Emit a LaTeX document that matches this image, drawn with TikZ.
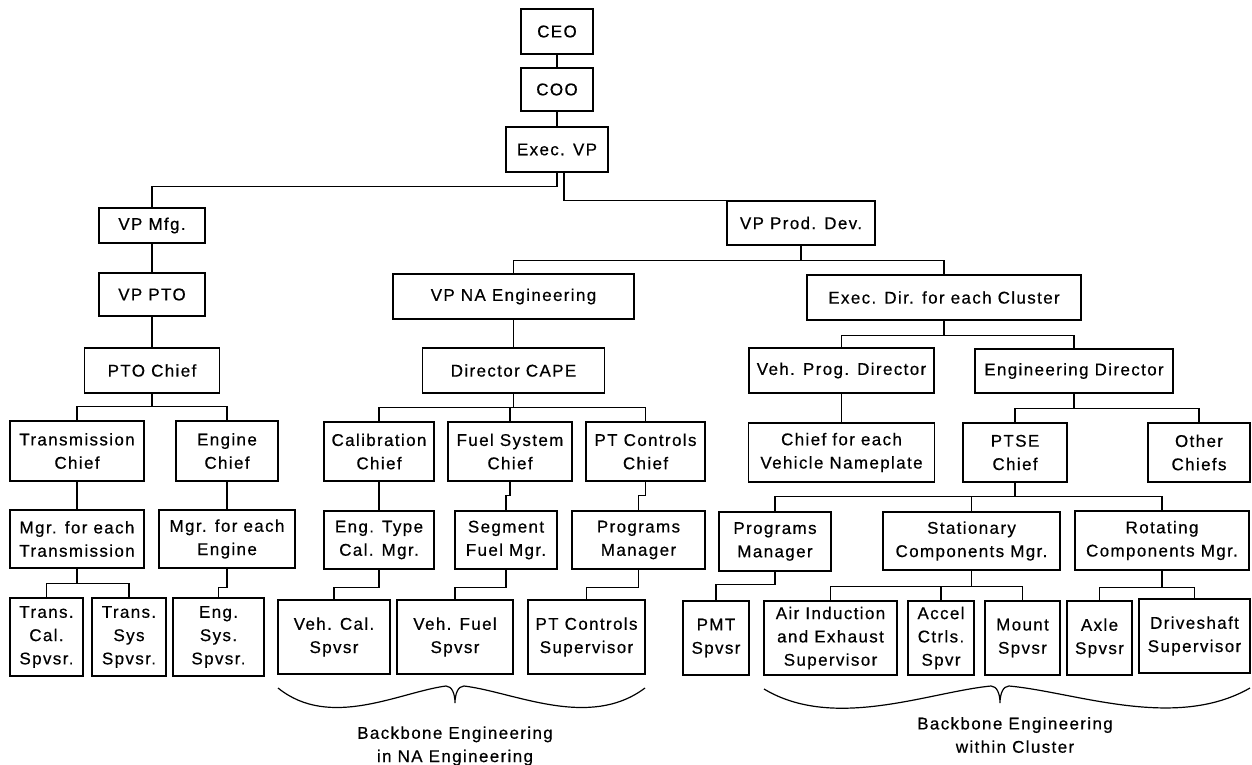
\documentclass[tikz,border=0pt]{standalone}
\usepackage{fontspec}
\setmainfont{Liberation Sans}[LetterSpace=8,FakeBold=0.5]
\newcommand\orgbox[6]{\node[box, minimum width=#4pt, minimum height=#5pt] (#1) at (#2,#3) {#6};}
\begin{document}
\begin{tikzpicture}[x=1pt,y=-1pt,
  every node/.style={font=\fontsize{17}{23.3}\selectfont},
  box/.style={draw, line width=1.3pt, align=center, inner sep=1pt},
  link/.style={line width=1.2pt},
  brace/.style={line width=1.2pt},
  bracelabel/.style={align=center}]
\useasboundingbox (0,0) rectangle (1252,765);
\fill[white] (0,0) rectangle (1252,765);

% top of the hierarchy
\orgbox{ceo}{557}{31.5}{72}{45}{CEO}
\orgbox{coo}{557}{89.5}{72}{43}{COO}
\orgbox{evp}{557}{149.5}{102}{45}{Exec. VP}

% manufacturing branch
\orgbox{vpmfg}{152}{225.5}{106}{35}{VP Mfg.}
\orgbox{vppto}{152}{294.5}{106}{43}{VP PTO}
\orgbox{ptochief}{152}{370.5}{135}{45}{PTO Chief}
\orgbox{trchief}{77}{451}{134}{60}{Transmission\\Chief}
\orgbox{engchief}{227}{451}{102}{60}{Engine\\Chief}
\orgbox{mgrtr}{77}{539}{134}{58}{Mgr. for each\\Transmission}
\orgbox{mgreng}{227}{539}{136}{58}{Mgr. for each\\Engine}
\orgbox{trcal}{46.5}{637}{73}{78}{Trans.\\Cal.\\Spvsr.}
\orgbox{trsys}{129}{637}{74}{78}{Trans.\\Sys\\Spvsr.}
\orgbox{engsys}{218.5}{637}{91}{78}{Eng.\\Sys.\\Spvsr.}

% product development branch
\orgbox{vpprod}{801}{223}{148}{44}{VP Prod. Dev.}
\orgbox{vpna}{513.5}{296.5}{241}{45}{VP NA Engineering}
\orgbox{execdir}{944}{297.5}{274}{45}{Exec. Dir. for each Cluster}
\orgbox{cape}{513.5}{370.5}{182}{45}{Director CAPE}
\orgbox{vehprog}{841.5}{370.5}{185}{45}{Veh. Prog. Director}
\orgbox{engdir}{1074}{371}{198}{44}{Engineering Director}

\orgbox{calchief}{379}{451.5}{110}{59}{Calibration\\Chief}
\orgbox{fuelchief}{510}{451.5}{124}{59}{Fuel System\\Chief}
\orgbox{ptcchief}{645.5}{451.5}{119}{59}{PT Controls\\Chief}
\orgbox{chiefveh}{841.5}{452.5}{186}{59}{Chief for each\\Vehicle Nameplate}
\orgbox{ptse}{1015}{452.5}{104}{59}{PTSE\\Chief}
\orgbox{other}{1199}{452.5}{102}{59}{Other\\Chiefs}

\orgbox{engtype}{379}{540}{110}{58}{Eng. Type\\Cal. Mgr.}
\orgbox{segfuel}{506}{540}{102}{58}{Segment\\Fuel Mgr.}
\orgbox{progmgra}{638.5}{540}{133}{58}{Programs\\Manager}
\orgbox{progmgrb}{775}{541.5}{112}{59}{Programs\\Manager}
\orgbox{statmgr}{971.5}{541}{177}{58}{Stationary\\Components Mgr.}
\orgbox{rotmgr}{1162}{540.5}{174}{59}{Rotating\\Components Mgr.}

\orgbox{vehcal}{334}{637}{112}{74}{Veh. Cal.\\Spvsr}
\orgbox{vehfuel}{455}{637}{116}{74}{Veh. Fuel\\Spvsr}
\orgbox{ptcsup}{586.5}{637}{117}{74}{PT Controls\\Supervisor}
\orgbox{pmt}{716}{638}{66}{74}{PMT\\Spvsr}
\orgbox{airind}{830.5}{638}{133}{74}{Air Induction\\and Exhaust\\Supervisor}
\orgbox{accel}{941}{638}{66}{74}{Accel\\Ctrls.\\Spvr}
\orgbox{mount}{1022.5}{638}{75}{74}{Mount\\Spvsr}
\orgbox{axle}{1099.5}{638}{65}{74}{Axle\\Spvsr}
\orgbox{drive}{1194.5}{636}{111}{74}{Driveshaft\\Supervisor}

% reporting lines
\draw[link] (ceo.south) -- (coo.north);
\draw[link] (coo.south) -- (evp.north);
\draw[link] (evp.south) -- ++(0,14) -| (vpmfg.north);
\draw[link] ([xshift=7pt]evp.south) |- (vpprod.north west);

\draw[link] (vpmfg.south) -- (vppto.north);
\draw[link] (vppto.south) -- (ptochief.north);
\draw[link] (ptochief.south) -- ++(0,13) coordinate (f1);
\draw[link] (trchief.north) |- (f1) -| (engchief.north);
\draw[link] (trchief.south) -- (mgrtr.north);
\draw[link] (engchief.south) -- (mgreng.north);
\draw[link] (mgrtr.south) -- ++(0,15) coordinate (f2);
\draw[link] (trcal.north) |- (f2) -| (trsys.north);
\draw[link] (mgreng.south) -- ++(0,19) -| (engsys.north);

\draw[link] (vpprod.south) -- ++(0,15) coordinate (f3);
\draw[link] (vpna.north) |- (f3) -| (execdir.north);
\draw[link] (vpna.south) -- (cape.north);
\draw[link] (cape.south) -- ++(0,14) coordinate (f4);
\draw[link] (calchief.north) |- (f4) -| (ptcchief.north);
\draw[link] (fuelchief.north) -- (fuelchief.north |- f4);
\draw[link] (calchief.south) -- (engtype.north);
\draw[link] (fuelchief.south) -- ++(0,14) -| (segfuel.north);
\draw[link] (ptcchief.south) -- ++(0,14) -| (progmgra.north);
\draw[link] (engtype.south) -- ++(0,18) -| (vehcal.north);
\draw[link] (segfuel.south) -- ++(0,18) -| (vehfuel.north);
\draw[link] (progmgra.south) -- ++(0,18) -| (ptcsup.north);

\draw[link] (execdir.south) -- ++(0,15) coordinate (f5);
\draw[link] (vehprog.north) |- (f5) -| (engdir.north);
\draw[link] (vehprog.south) -- (chiefveh.north);
\draw[link] (engdir.south) -- ++(0,15) coordinate (f6);
\draw[link] (ptse.north) |- (f6) -| (other.north);
\draw[link] (ptse.south) -- ++(0,14) coordinate (f7);
\draw[link] (progmgrb.north) |- (f7) -| (rotmgr.north);
\draw[link] (statmgr.north) -- (statmgr.north |- f7);
\draw[link] (progmgrb.south) -- ++(0,13) -| (pmt.north);
\draw[link] (statmgr.south) -- ++(0,16) coordinate (f8);
\draw[link] (airind.north) |- (f8) -| (mount.north);
\draw[link] (accel.north) -- (accel.north |- f8);
\draw[link] (rotmgr.south) -- ++(0,17) coordinate (f9);
\draw[link] (axle.north) |- (f9) -| (drive.north);

% braces grouping the backbone engineering groups
\draw[brace] (278,688) .. controls (330,730) and (400,692) .. (446,686)
  .. controls (452,686) and (455,694) .. (455,703)
  .. controls (455,694) and (458,686) .. (464,686)
  .. controls (514,692) and (589,730) .. (645,688);
\draw[brace] (764,689) .. controls (834,731) and (929,692) .. (991,686)
  .. controls (997,686) and (1000,694) .. (1000,703)
  .. controls (1000,694) and (1003,686) .. (1009,686)
  .. controls (1075,692) and (1175,731) .. (1250,688);

\node[bracelabel] (bbna) at (455,746) {Backbone Engineering\\in NA Engineering};
\node[bracelabel] (bbcl) at (1015,735) {Backbone Engineering\\within Cluster};
\end{tikzpicture}
\end{document}
